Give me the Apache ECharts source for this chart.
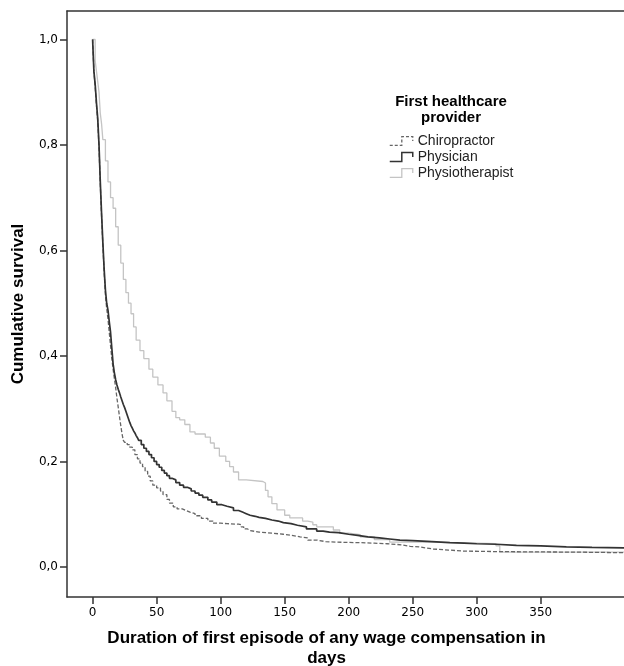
<!DOCTYPE html>
<html>
<head>
<meta charset="utf-8">
<script src="https://cdn.jsdelivr.net/npm/echarts@6/dist/echarts.min.js"></script>
<style>
html,body{margin:0;padding:0;background:#fff;overflow:hidden;}
#chart{width:624px;height:666px;}
</style>
</head>
<body>
<div id="chart"></div>
<script>
// Kaplan-Meier style cumulative survival, [day, survival]
var seriesNames = ['Chiropractor', 'Physician', 'Physiotherapist'];

var chiropractor = [
  [0,1],[1,0.94],[2,0.91],[3,0.875],[4,0.845],[5,0.795],[6,0.725],[7,0.665],[8,0.61],[9,0.56],
  [10,0.515],[11,0.49],[12,0.47],[13,0.445],[14,0.42],[15,0.395],[16,0.375],[17,0.357],[18,0.34],
  [19,0.32],[20,0.303],[21,0.285],[22,0.268],[23,0.252],[24,0.24],[25,0.236],[27,0.232],[29,0.227],
  [31,0.222],[33,0.213],[35,0.205],[37,0.197],[39,0.19],[41,0.181],[43,0.172],[45,0.163],[47,0.155],
  [50,0.15],[53,0.144],[55,0.137],[58,0.128],[60,0.121],[63,0.114],[66,0.11],[70,0.107],[73,0.104],
  [76,0.101],[80,0.097],[85,0.092],[90,0.087],[94,0.083],[100,0.082],[105,0.081],[114,0.08],
  [116,0.076],[118,0.072],[121,0.069],[123,0.066],[130,0.064],[140,0.062],[149,0.06],[155,0.057],
  [162,0.055],[168,0.051],[175,0.048],[182,0.047],[190,0.046],[209,0.045],[220,0.044],[230,0.042],
  [241,0.039],[248,0.038],[255,0.036],[260,0.034],[266,0.032],[278,0.03],[290,0.029],[318,0.028],
  [380,0.027],[415,0.026]
];

var physician = [
  [0,1],[1,0.94],[2,0.915],[3,0.88],[4,0.85],[5,0.80],[6,0.73],[7,0.67],[8,0.615],[9,0.565],
  [10,0.525],[11,0.50],[12,0.487],[13,0.465],[14,0.445],[15,0.415],[16,0.385],[17,0.368],[18,0.355],
  [19,0.345],[20,0.337],[21,0.33],[22,0.322],[23,0.315],[24,0.308],[25,0.302],[26,0.295],[27,0.288],
  [28,0.281],[29,0.274],[30,0.268],[31,0.263],[32,0.258],[33,0.254],[34,0.249],[35,0.245],[36,0.24],
  [38,0.232],[40,0.225],[42,0.219],[44,0.213],[46,0.207],[48,0.2],[50,0.194],[52,0.189],[54,0.183],
  [56,0.178],[58,0.173],[60,0.168],[62,0.165],[65,0.16],[68,0.155],[71,0.151],[74,0.148],[77,0.144],
  [80,0.14],[83,0.136],[86,0.132],[90,0.127],[93,0.123],[97,0.118],[101,0.115],[105,0.112],
  [110,0.107],[114,0.104],[117,0.101],[120,0.098],[123,0.096],[127,0.094],[130,0.092],[135,0.089],
  [140,0.087],[145,0.084],[149,0.082],[155,0.079],[160,0.076],[167,0.072],[175,0.068],[180,0.066],
  [185,0.065],[192,0.062],[200,0.06],[207,0.057],[215,0.055],[224,0.053],[232,0.051],[240,0.05],
  [250,0.048],[265,0.046],[279,0.045],[290,0.044],[300,0.043],[315,0.041],[331,0.040],[350,0.038],
  [370,0.037],[390,0.036],[415,0.035]
];

var physiotherapist = [
  [0,1],[2,0.96],[3,0.94],[4,0.92],[5,0.90],[6,0.86],[7,0.84],[8,0.81],[10,0.77],[12,0.73],
  [14,0.70],[16,0.68],[18,0.645],[20,0.61],[22,0.576],[24,0.545],[26,0.52],[28,0.50],
  [30,0.48],[32,0.455],[34,0.43],[37,0.41],[40,0.395],[44,0.375],[47,0.36],[51,0.345],
  [55,0.33],[58,0.315],[62,0.295],[65,0.283],[68,0.279],[72,0.27],[76,0.256],[80,0.252],
  [88,0.246],[92,0.235],[95,0.225],[99,0.21],[104,0.2],[107,0.19],[110,0.18],[114,0.165],
  [120,0.162],[133,0.159],[135,0.145],[137,0.133],[140,0.12],[144,0.108],[150,0.098],
  [154,0.093],[164,0.087],[168,0.085],[172,0.08],[175,0.076],[188,0.07],[193,0.064],
  [200,0.061],[209,0.057],[220,0.052],[232,0.047],[264,0.045],[300,0.044],[315,0.040],
  [318,0.028],[415,0.027]
];

var xTicks = [0, 50, 100, 150, 200, 250, 300, 350];
var yTicks = [0, 0.2, 0.4, 0.6, 0.8, 1.0];

var chart = echarts.init(document.getElementById('chart'), null, {renderer: 'canvas'});

var axisColor = '#333';
var labelFont = {fontFamily: 'DejaVu Sans', fontSize: 12, color: '#000'};
var titleFont = 'Liberation Sans';
var legendIcon = 'path://M0,10 L11,10 L11,2 L21,2 L21,6';

var option = {
  animation: false,
  backgroundColor: '#fff',
  grid: {left: 67, top: 11, right: 0, height: 586, containLabel: false, outerBoundsMode: 'none'},
  xAxis: [{
    type: 'value',
    min: -20, max: 415,
    name: 'Duration of first episode of any wage compensation in\ndays',
    nameLocation: 'middle',
    nameGap: 31,
    nameTextStyle: {fontFamily: titleFont, fontWeight: 'bold', fontSize: 17, color: '#000',
      lineHeight: 20, padding: [0, 38, 0, 0], verticalAlign: 'top'},
    axisLine: {show: true, onZero: false, lineStyle: {color: axisColor, width: 1.5}},
    axisTick: {show: true, length: 7, customValues: xTicks, lineStyle: {color: axisColor, width: 1.5}},
    axisLabel: {show: true, customValues: xTicks, margin: 10, ...labelFont},
    splitLine: {show: false}
  }, {
    type: 'value', position: 'top',
    min: -20, max: 415,
    axisLine: {show: true, onZero: false, lineStyle: {color: axisColor, width: 1.5}},
    axisTick: {show: false}, axisLabel: {show: false}, splitLine: {show: false}
  }],
  yAxis: {
    type: 'value',
    min: -0.057, max: 1.054,
    name: 'Cumulative survival',
    nameLocation: 'middle',
    nameGap: 40,
    nameTextStyle: {fontFamily: titleFont, fontWeight: 'bold', fontSize: 17, color: '#000'},
    axisLine: {show: true, onZero: false, lineStyle: {color: axisColor, width: 1.5}},
    axisTick: {show: true, length: 7, customValues: yTicks, lineStyle: {color: axisColor, width: 1.5}},
    axisLabel: {show: true, customValues: yTicks, margin: 9, ...labelFont,
      formatter: function (v) { return v.toFixed(1).replace('.', ','); }},
    splitLine: {show: false}
  },
  legend: {
    orient: 'vertical',
    left: 384, top: 129,
    itemWidth: 23, itemHeight: 10, itemGap: 2,
    textStyle: {fontFamily: titleFont, fontSize: 14, color: '#222'},
    data: [
      {name: 'Chiropractor', icon: legendIcon,
        itemStyle: {color: 'rgba(0,0,0,0)', borderColor: '#666', borderWidth: 1.3, borderType: [3, 2]}},
      {name: 'Physician', icon: legendIcon,
        itemStyle: {color: 'rgba(0,0,0,0)', borderColor: '#333', borderWidth: 1.5}},
      {name: 'Physiotherapist', icon: legendIcon,
        itemStyle: {color: 'rgba(0,0,0,0)', borderColor: '#c4c4c4', borderWidth: 1.3}}
    ]
  },
  graphic: [{
    type: 'text', x: 451, y: 94,
    style: {text: 'First healthcare\nprovider', align: 'center', verticalAlign: 'top',
      fontFamily: titleFont, fontWeight: 'bold', fontSize: 15, lineHeight: 16, fill: '#000'}
  }],
  series: [
    {name: seriesNames[0], type: 'line', step: 'end', symbol: 'none', data: chiropractor,
      color: '#666', lineStyle: {color: '#666', width: 1.3, type: [4, 2]}, z: 3},
    {name: seriesNames[1], type: 'line', step: 'end', symbol: 'none', data: physician,
      color: '#333', lineStyle: {color: '#333', width: 1.7}, z: 4},
    {name: seriesNames[2], type: 'line', step: 'end', symbol: 'none', data: physiotherapist,
      color: '#c4c4c4', lineStyle: {color: '#c4c4c4', width: 1.3}, z: 2}
  ]
};
chart.setOption(option);
</script>
</body>
</html>
